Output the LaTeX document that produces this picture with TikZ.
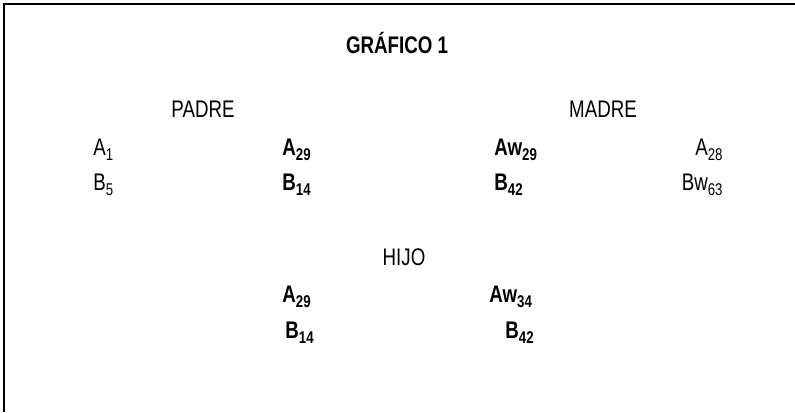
\documentclass[tikz,border=0pt]{standalone}
\usepackage{fontspec}
\setmainfont[FakeStretch=0.78]{Liberation Sans}
\newcommand\idx[1]{\raisebox{-2.8pt}{\fontsize{8.5}{9}\selectfont #1}}
\begin{document}
\begin{tikzpicture}[x=0.5pt,y=-0.5pt,anchor=base west,inner sep=0pt,font=\fontsize{12}{14}\selectfont]
\useasboundingbox (0,0) rectangle (795,412);
\coordinate (fb) at (3.5,412); \coordinate (fc) at (3.5,4); \coordinate (fr) at (795,4);
\draw[line width=1pt] (fb) -- (fc) -- (fr);
\node[anchor=base] (tit) at (397,53) {\textbf{GRÁFICO 1}};
\node[anchor=base] (pad) at (203,117) {PADRE}; \node[anchor=base] (mad) at (603,117) {MADRE};
\node (pa1) at (93,155) {A\idx{1}}; \node (pa2) at (282,155) {\textbf{A\idx{29}}};
\node (ma1) at (494,155) {\textbf{Aw\idx{29}}}; \node[anchor=base east] (ma2) at (723,155) {A\idx{28}};
\node (pb1) at (93,190) {B\idx{5}}; \node (pb2) at (282,190) {\textbf{B\idx{14}}};
\node (mb1) at (494,190) {\textbf{B\idx{42}}}; \node[anchor=base east] (mb2) at (723,190) {Bw\idx{63}};
\node[anchor=base] (hij) at (404,265) {HIJO};
\node (ha1) at (282,302) {\textbf{A\idx{29}}}; \node (ha2) at (489,302) {\textbf{Aw\idx{34}}};
\node (hb1) at (285,338) {\textbf{B\idx{14}}}; \node (hb2) at (505,338) {\textbf{B\idx{42}}};
\end{tikzpicture}
\end{document}
